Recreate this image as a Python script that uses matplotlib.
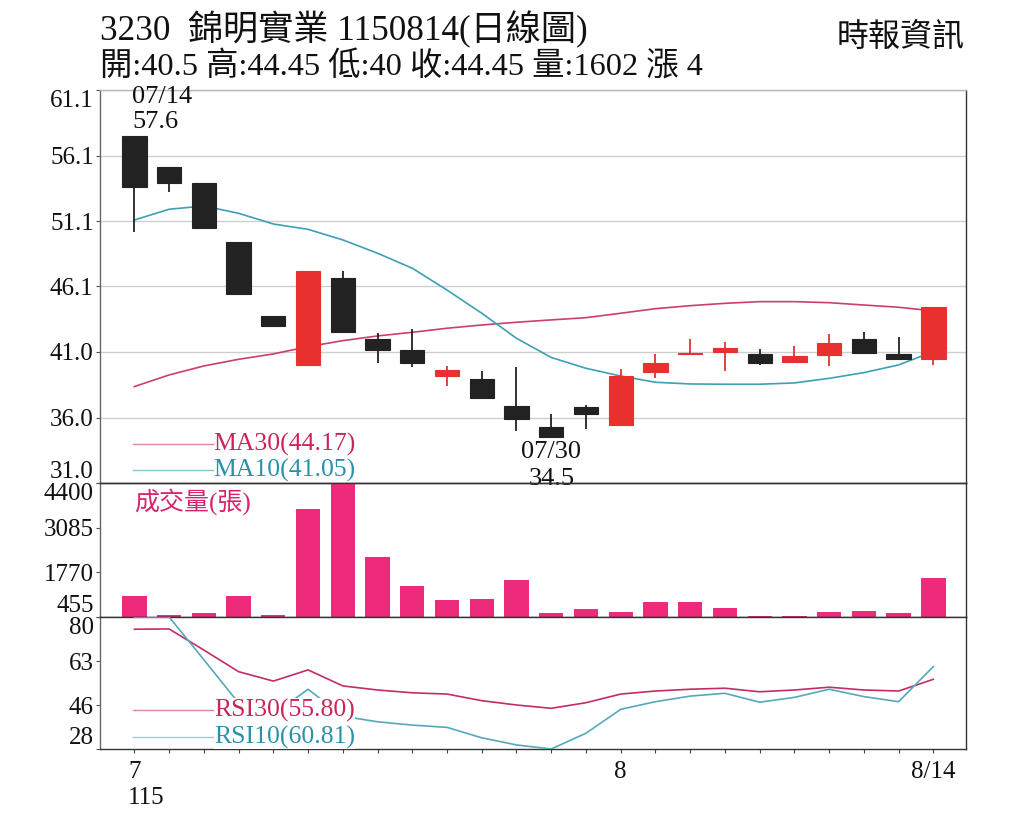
import numpy as np
import matplotlib
matplotlib.use("Agg")
import matplotlib.pyplot as plt

plt.rcParams['font.family'] = ['Liberation Serif', 'Noto Sans CJK TC', 'DejaVu Sans']

# ---------------- data ----------------
dates = ['07/14', '07/15', '07/16', '07/17', '07/20', '07/21', '07/22', '07/23', '07/24',
         '07/27', '07/28', '07/29', '07/30', '07/31', '08/03', '08/04', '08/05', '08/06',
         '08/07', '08/10', '08/11', '08/12', '08/13', '08/14']
opens = [57.6, 55.2, 54.0, 49.45, 43.8, 40.0, 46.7, 42.0, 41.2, 39.15, 38.95, 36.9,
         35.3, 36.8, 35.4, 39.45, 40.9, 41.0, 40.9, 40.25, 40.8, 42.0, 40.9, 40.5]
highs = [57.6, 55.2, 54.0, 49.45, 43.8, 47.25, 47.2, 42.45, 42.8, 39.95, 39.55, 39.9,
         36.3, 36.95, 39.75, 40.9, 42.0, 41.75, 41.25, 41.5, 42.4, 42.55, 42.2, 44.45]
lows = [50.2, 53.3, 50.55, 45.45, 43.0, 40.0, 42.55, 40.15, 39.9, 38.4, 37.5, 35.0,
        34.5, 35.1, 35.4, 39.05, 40.9, 39.55, 40.0, 40.25, 39.95, 40.95, 40.45, 40.0]
closes = [53.7, 54.0, 50.55, 45.45, 43.0, 47.25, 42.55, 41.2, 40.15, 39.65, 37.5, 35.9,
          34.5, 36.3, 39.2, 40.15, 40.95, 41.3, 40.2, 40.75, 41.7, 40.95, 40.45, 44.45]
volumes = [1079, 514, 564, 1079, 514, 3637, 4400, 2210, 1376, 941, 979, 1544,
           564, 682, 614, 891, 891, 729, 493, 493, 614, 635, 585, 1602]
ma10 = [51.14, 51.96, 52.21, 51.65, 50.83, 50.42, 49.61, 48.59, 47.44, 45.77, 43.99, 42.07,
        40.6, 39.77, 39.18, 38.7, 38.57, 38.55, 38.55, 38.65, 39.0, 39.44, 40.03, 41.05]
ma30 = [38.37, 39.26, 39.95, 40.46, 40.87, 41.43, 41.89, 42.25, 42.53, 42.84, 43.09, 43.3,
        43.48, 43.65, 43.99, 44.34, 44.57, 44.75, 44.88, 44.88, 44.8, 44.62, 44.45, 44.17]
rsi30 = [75.5, 75.6, 67.3, 58.8, 55.1, 59.5, 53.2, 51.6, 50.5, 50.0, 47.4, 45.7,
         44.4, 46.6, 50.0, 51.2, 51.9, 52.3, 50.9, 51.6, 52.7, 51.6, 51.2, 55.80]
rsi10 = [80.3, 80.3, 63.5, 46.5, 42.0, 51.9, 41.3, 39.1, 37.8, 36.9, 32.8, 30.0,
         28.4, 34.6, 44.0, 47.0, 49.2, 50.3, 46.8, 48.7, 51.9, 49.0, 47.0, 60.81]

price_range = (30.98, 61.1)
price_tick_labels = ['31.0', '36.0', '41.0', '46.1', '51.1', '56.1', '61.1']
vol_range = (455, 4400)
vol_tick_labels = ['455', '1770', '3085', '4400']
rsi_range = (28.4, 80.3)
rsi_tick_labels = ['28', '46', '63', '80']

title1 = '3230  錦明實業 1150814(日線圖)'
title2 = '開:40.5 高:44.45 低:40 收:44.45 量:1602 漲 4'
source = '時報資訊'
roc_year = '115'

# ---------------- style ----------------
RED = '#e8302e'
BLACK = '#222222'
VOLC = '#ee2a7b'
MA30C = '#c93f72'
MA10C = '#3f9fb4'
MA30T = '#cc2358'
MA10T = '#2a90ab'
GRID = '#cfcfcf'

W, H = 1024, 819
fig = plt.figure(figsize=(W / 100, H / 100), dpi=100)
fig.patch.set_facecolor('white')
L, R = 100 / W, 966 / W


def rect(top, bot):
    return [L, 1 - bot / H, R - L, (bot - top) / H]


ax1 = fig.add_axes(rect(90, 483))
ax2 = fig.add_axes(rect(483, 617), sharex=ax1)
ax3 = fig.add_axes(rect(617, 749), sharex=ax1)

n = len(dates)
x = np.arange(n)
o = np.array(opens); c = np.array(closes); h = np.array(highs); l = np.array(lows)
up = c >= o
cols = np.where(up, RED, BLACK)

# price panel
pt = np.linspace(price_range[0], price_range[1], len(price_tick_labels))
for v in pt:
    ax1.axhline(v, color=GRID, lw=1.0, zorder=0)
ax1.plot(x, ma30, color=MA30C, lw=1.2, zorder=2)
ax1.plot(x, ma10, color=MA10C, lw=1.2, zorder=2)
ax1.vlines(x, l, h, colors=cols, lw=1.3, zorder=3)
ax1.bar(x, np.maximum(np.abs(c - o), 0.05), bottom=np.minimum(o, c), width=0.7,
        color=cols, edgecolor=cols, lw=0.8, zorder=4)
ax1.set_ylim(*price_range)
ax1.set_yticks(pt)
ax1.set_yticklabels(price_tick_labels)
ax1.set_xlim(-0.99, n - 1 + 0.94)

imax = int(np.argmax(h)); imin = int(np.argmin(l))
ax1.annotate(f'{h[imax]:g}', xy=(imax, h[imax]), xytext=(-1.5, 2), textcoords='offset points',
             ha='left', va='bottom', fontsize=19, color='#111111')
ax1.annotate(dates[imax], xy=(imax, h[imax]), xytext=(-1.5, 20), textcoords='offset points',
             ha='left', va='bottom', fontsize=19, color='#111111')
ax1.annotate(dates[imin], xy=(imin, l[imin]), xytext=(0, -3), textcoords='offset points',
             ha='center', va='top', fontsize=19, color='#111111', zorder=6)
ax1.annotate(f'{l[imin]:g}', xy=(imin, l[imin]), xytext=(0, -22), textcoords='offset points',
             ha='center', va='top', fontsize=19, color='#111111', zorder=6,
             annotation_clip=False)

# legend for MAs
x0, x1 = 33 / 866, 113 / 866
for yy, col, tcol, lab in [((483 - 444) / 393, '#d889a5', MA30T, f'MA30({ma30[-1]:.2f})'),
                           ((483 - 470) / 393, '#8cc3cc', MA10T, f'MA10({ma10[-1]:.2f})')]:
    ax1.plot([x0, x1], [yy, yy], color=col, lw=1.0, transform=ax1.transAxes)
    ax1.text(x1, yy, lab, transform=ax1.transAxes, ha='left', va='center',
             fontsize=18.5, color=tcol)

# volume panel
ax2.bar(x, volumes, width=0.7, color=VOLC, zorder=2)
ax2.set_ylim(*vol_range)
ax2.set_yticks(np.linspace(vol_range[0], vol_range[1], len(vol_tick_labels)))
ax2.set_yticklabels(vol_tick_labels)
ax2.text(34 / 866, 0.862, '成交量(張)', transform=ax2.transAxes, ha='left', va='center',
         fontsize=18, color='#d6246e', family=['Liberation Serif', 'Noto Sans CJK TC'])
ax2.patch.set_visible(False)

# RSI panel
ax3.plot(x, rsi30, color='#c42c66', lw=1.2, zorder=3)
ax3.plot(x, rsi10, color='#55a9b8', lw=1.2, zorder=3)
ax3.set_ylim(*rsi_range)
ax3.set_yticks(np.linspace(rsi_range[0], rsi_range[1], len(rsi_tick_labels)))
ax3.set_yticklabels(rsi_tick_labels)
for yy, col, tcol, lab in [((749 - 710) / 132, '#d889a5', '#cc2358', f'RSI30({rsi30[-1]:.2f})'),
                           ((749 - 737) / 132, '#9ccbd2', '#2a90ab', f'RSI10({rsi10[-1]:.2f})')]:
    ax3.plot([x0, x1 + 0.001], [yy, yy], color=col, lw=1.0, transform=ax3.transAxes, zorder=2)
    ax3.text(x1 + 0.001, yy, lab, transform=ax3.transAxes, ha='left', va='center',
             fontsize=18.5, color=tcol, zorder=5,
             bbox=dict(boxstyle='square,pad=0.0', fc='white', ec='none'))

# x ticks
months = [d.split('/')[0] for d in dates]
xt = [0]; xl = [str(int(months[0]))]
for i in range(1, n):
    if months[i] != months[i - 1]:
        xt.append(i); xl.append(str(int(months[i])))
xt.append(n - 1); xl.append(f'{int(months[-1])}/{int(dates[-1].split("/")[1])}')
ax3.set_xticks(x, minor=True)
ax3.set_xticks(xt)
ax3.set_xticklabels(xl)
ax3.annotate(roc_year, xy=(0, 0), xycoords=('data', 'axes fraction'), xytext=(-4.5, -35),
             textcoords='offset points', ha='left', va='center', fontsize=18, color='#111111')

for ax in (ax1, ax2, ax3):
    ax.tick_params(axis='y', which='both', direction='out', length=3, width=0.8,
                   color='#555555', labelsize=18, labelcolor='#111111', pad=1.5)
    for s in ax.spines.values():
        s.set_color('#333333'); s.set_linewidth(1.0)
    ax.spines['left'].set_color('#666666')
ax1.spines['top'].set_color('#bbbbbb')
for ax in (ax1, ax2):
    ax.tick_params(axis='x', which='both', bottom=False, labelbottom=False)
ax3.tick_params(axis='x', which='both', direction='out', length=3, width=0.8,
                color='#444444', labelsize=18, labelcolor='#111111', pad=6)

# shift outer y labels inward
for ax in (ax1, ax2, ax3):
    labs = ax.get_yticklabels()
    labs[0].set_va('bottom')
    labs[-1].set_va('top')

# header
fig.text(100 / W, 1 - 30 / H, title1, ha='left', va='center', fontsize=25.3, color='#111111')
fig.text(100 / W, 1 - 67 / H, title2, ha='left', va='center', fontsize=23.3, color='#111111')
fig.text(965 / W, 1 - 38 / H, source, ha='right', va='center', fontsize=23, color='#111111')

fig.savefig('out.png', dpi=100, facecolor='white')
